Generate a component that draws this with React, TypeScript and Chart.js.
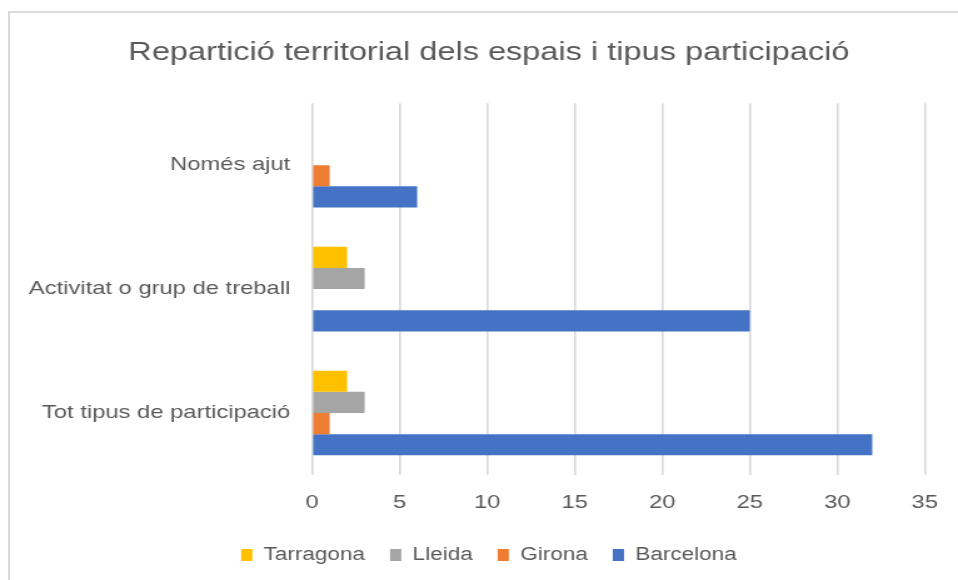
import React, { useEffect, useRef } from "react";
import { Chart, registerables } from "chart.js";

Chart.register(...registerables);

const categories = ["Només ajut", "Activitat o grup de treball", "Tot tipus de participació"];
const seriesNames = ["Tarragona", "Lleida", "Girona", "Barcelona"];
const tarragona = [0, 2, 2];
const lleida = [0, 3, 3];
const girona = [1, 0, 1];
const barcelona = [6, 25, 32];
const seriesColors = ["#FFC000", "#A5A5A5", "#ED7D31", "#4472C4"];
const xTicks = [0, 5, 10, 15, 20, 25, 30, 35];
const titleText = "Repartició territorial dels espais i tipus participació";

const SX = 1.25; // horizontal stretch of the reference rendering
const W = 958;
const H = 580;
const IW = Math.round(W / SX);

// shifts title and legend horizontally so they are centred like the reference
const shiftPlugin = {
  id: "shiftTitleLegend",
  afterLayout(chart: any) {
    const d = 15.5;
    for (const b of [chart.titleBlock, chart.legend]) {
      if (b) {
        b.left += d;
        b.right += d;
      }
    }
  },
};

export default function App() {
  const ref = useRef<HTMLCanvasElement | null>(null);
  useEffect(() => {
    if (!ref.current) return;
    const values = [tarragona, lleida, girona, barcelona];
    const font = "'Liberation Sans', Arial, sans-serif";
    const padL = 10;
    const chart = new Chart(ref.current, {
      type: "bar",
      data: {
        labels: categories,
        datasets: seriesNames.map((n, i) => ({
          label: n,
          data: values[i],
          backgroundColor: seriesColors[i],
          borderWidth: 0,
          categoryPercentage: 0.683,
          barPercentage: 1.0,
        })),
      },
      options: {
        indexAxis: "y",
        animation: false,
        responsive: false,
        devicePixelRatio: 1,
        layout: { padding: { left: padL, right: IW - 926 / SX, top: 0, bottom: 6 } },
        scales: {
          x: {
            min: 0,
            max: 35,
            afterBuildTicks: (s: any) => {
              s.ticks = xTicks.map((v) => ({ value: v }));
            },
            grid: { color: "#D9D9D9", lineWidth: 1.6, drawTicks: false },
            border: { display: false },
            ticks: { color: "#595959", font: { family: font, size: 19 }, padding: 16 },
            afterFit: (s: any) => { s.height = 51; },
          },
          y: {
            grid: { display: false, drawTicks: false },
            border: { display: false },
            ticks: { color: "#595959", font: { family: font, size: 19 }, padding: 17.5 },
            afterFit: (s: any) => { s.width = 312 / SX - padL; },
          },
        },
        plugins: {
          title: {
            display: true,
            text: titleText,
            color: "#595959",
            font: { family: font, size: 26, weight: "normal" },
            padding: { top: 37, bottom: 35 },
          },
          legend: {
            position: "bottom",
            labels: {
              color: "#595959",
              font: { family: font, size: 18 },
              boxWidth: 9,
              boxHeight: 12,
              padding: 20,
            },
          },
          tooltip: { enabled: false },
        },
      },
      plugins: [shiftPlugin],
    });
    return () => chart.destroy();
  }, []);
  return (
    <div style={{ position: "fixed", left: 0, top: 0, width: W, height: H, background: "#fff", overflow: "hidden" }}>
      <div style={{ position: "absolute", left: 8, top: 11, width: 1000, height: 700, borderLeft: "2px solid #D9D9D9", borderTop: "2px solid #D9D9D9" }} />
      <canvas ref={ref} width={IW} height={H} style={{ position: "absolute", left: 0, top: 0, width: W, height: H }} />
    </div>
  );
}
